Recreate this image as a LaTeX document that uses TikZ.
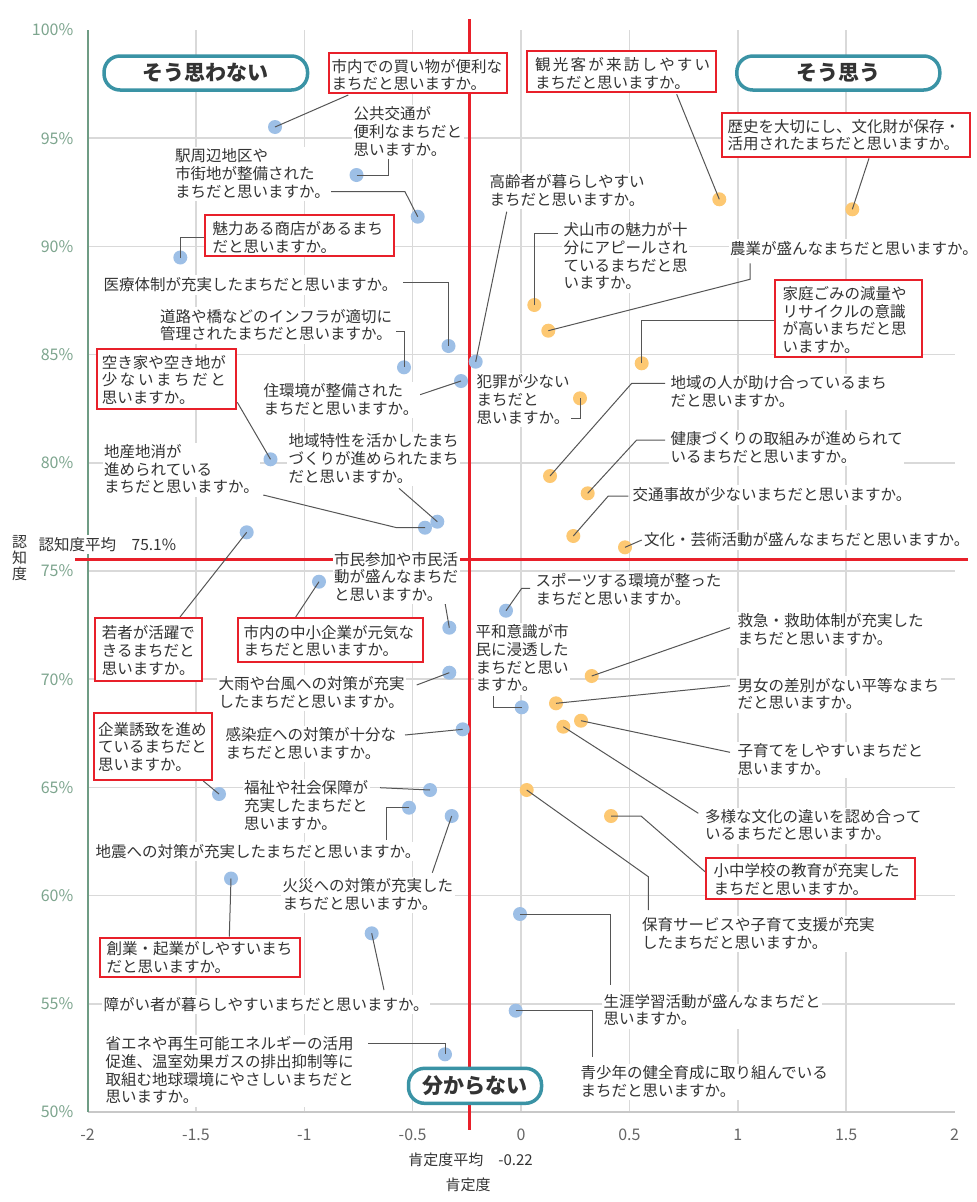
\documentclass[tikz,border=0pt]{standalone}
\usepackage{fontspec}
\setmainfont{Noto Sans CJK JP}
\definecolor{txt}{HTML}{333333}
\definecolor{myred}{HTML}{E8202A}
\definecolor{dotblue}{HTML}{9DBFE6}
\definecolor{dotorange}{HTML}{FDC872}
\definecolor{connc}{HTML}{555555}
\definecolor{tealc}{HTML}{3A93A5}
\definecolor{gridc}{HTML}{D9D9D9}
\definecolor{axgray}{HTML}{C8C8C8}
\definecolor{axgreen}{HTML}{6F9C84}
\definecolor{tickgreen}{HTML}{7DA58E}
\definecolor{tickgray}{HTML}{666666}
\tikzset{
  lbl/.style={anchor=west, align=left, inner sep=1.5pt, fill=white, text=txt,
    font=\fontsize{15.5}{17.8}\selectfont,
    execute at begin node={\rule{0pt}{0.9em}},
    execute at end node={\rule[-0.14em]{0pt}{0.14em}}},
  inlbl/.style={lbl, fill=none, inner sep=0pt},
  rbox/.style={draw=myred, line width=2pt, fill=white, anchor=north west, inner sep=0pt},
  bdot/.style={circle, fill=dotblue, minimum size=14pt, inner sep=0pt},
  odot/.style={circle, fill=dotorange, minimum size=14pt, inner sep=0pt},
  conn/.style={draw=connc, line width=1pt},
  pill/.style={draw=tealc, line width=3.5pt, fill=white, rounded corners=16pt, text=txt,
    font=\fontsize{21}{24}\selectfont\bfseries, inner sep=0pt},
  gridln/.style={draw=gridc, line width=1.5pt},
  redln/.style={draw=myred, line width=2.5pt},
  ytick/.style={anchor=east, text=tickgreen, font=\fontsize{16}{18}\selectfont, inner sep=0pt},
  xtick/.style={text=tickgray, font=\fontsize{16}{18}\selectfont, inner sep=0pt},
  axlbl/.style={text=txt, font=\fontsize{15}{16}\selectfont, inner sep=0pt, align=center},
}
\begin{document}
\begin{tikzpicture}[x=1pt,y=-1pt]
\useasboundingbox (0,0) rectangle (977,1202);
\fill[white] (0,0) rectangle (977,1202);
% grid
\foreach \yy in {138.2,246.4,354.6,462.8,571,679.2,787.4,895.6,1003.8}
  \draw[gridln] (88,\yy) -- (955,\yy);
\foreach \xx in {195.9,304.3,412.6,521,629.4,737.8,846.1}
  \draw[gridln] (\xx,30) -- (\xx,1112);
\draw[draw=axgray, line width=2pt] (88,1112) -- (955,1112);
\draw[draw=axgreen, line width=2.5pt] (88,30) -- (88,1112);
% ticks
\foreach \v/\yy [count=\i] in {100/30,95/138.2,90/246.4,85/354.6,80/462.8,75/571,70/679.2,65/787.4,60/895.6,55/1003.8,50/1112}
  \node[ytick] (yt\i) at (73.5,\yy) {\v\%};
\foreach \v/\xx [count=\i] in {-2/87.5,-1.5/195.9,-1/304.3,-0.5/412.6,0/521,0.5/629.4,1/737.8,1.5/846.1,2/954.5}
  \node[xtick] (xt\i) at (\xx,1135) {\v};
\node[axlbl] (xavg) at (470.5,1160) {肯定度平均　-0.22};
\node[axlbl] (xlab) at (468,1185) {肯定度};
\node[axlbl] (ylab) at (19.7,558) {認\\知\\度};
% average lines
\draw[redln] (469.3,19) -- (469.3,1130);
\draw[redln] (75,559.3) -- (968,559.3);
% dots
\node[bdot] (d1) at (275,127) {};
\node[bdot] (d2) at (356.5,175) {};
\node[bdot] (d3) at (417.7,216.7) {};
\node[bdot] (d4) at (180.3,257.5) {};
\node[bdot] (d5) at (448.5,346) {};
\node[bdot] (d6) at (404,367.3) {};
\node[bdot] (d7) at (475.7,361.7) {};
\node[bdot] (d8) at (461,381) {};
\node[bdot] (d9) at (270.5,459.3) {};
\node[bdot] (d10) at (437.3,521.7) {};
\node[bdot] (d11) at (425,527.7) {};
\node[bdot] (d12) at (246.7,532.3) {};
\node[bdot] (d13) at (319,581.7) {};
\node[bdot] (d14) at (449.3,627.7) {};
\node[bdot] (d15) at (449.3,672.7) {};
\node[bdot] (d16) at (462.7,729.3) {};
\node[bdot] (d17) at (430,790) {};
\node[bdot] (d18) at (409,807.7) {};
\node[bdot] (d19) at (451.7,816) {};
\node[bdot] (d20) at (231,878.5) {};
\node[bdot] (d21) at (371.7,933.3) {};
\node[bdot] (d22) at (445,1054.3) {};
\node[bdot] (d23) at (520,914) {};
\node[bdot] (d24) at (515.7,1010.7) {};
\node[bdot] (d25) at (521.7,707.3) {};
\node[bdot] (d26) at (506,610.7) {};
\node[bdot] (d27) at (219,794) {};
\node[odot] (d28) at (719.3,199.3) {};
\node[odot] (d29) at (852.3,209.3) {};
\node[odot] (d30) at (534.3,305) {};
\node[odot] (d31) at (548.3,330.7) {};
\node[odot] (d32) at (641.7,363.3) {};
\node[odot] (d33) at (580,398.3) {};
\node[odot] (d34) at (550,476) {};
\node[odot] (d35) at (587.7,493.3) {};
\node[odot] (d36) at (573.3,536) {};
\node[odot] (d37) at (625,547.3) {};
\node[odot] (d38) at (591.7,676) {};
\node[odot] (d39) at (556,703.3) {};
\node[odot] (d40) at (581,720.7) {};
\node[odot] (d41) at (563.3,726.7) {};
\node[odot] (d42) at (526.7,790) {};
\node[odot] (d43) at (611,816) {};
% connectors
\draw[conn] (d1.center) -- (348.3,95);
\draw[conn] (d2.center) -- (388.3,175) -- (388.3,159.3);
\draw[conn] (330,191.7) -- (405,191.7) -- (d3.center);
\draw[conn] (d4.center) -- (180.3,237.3) -- (204,237.3);
\draw[conn] (403.3,282.7) -- (448.5,282.7) -- (d5.center);
\draw[conn] (396,331) -- (404,331) -- (d6.center);
\draw[conn] (506.7,211.7) -- (d7.center);
\draw[conn] (411,397.7) -- (d8.center);
\draw[conn] (237.3,402.3) -- (d9.center);
\draw[conn] (399,488.3) -- (d10.center);
\draw[conn] (263.3,495) -- (396.7,527.7) -- (d11.center);
\draw[conn] (180,617) -- (d12.center);
\draw[conn] (295.7,617) -- (d13.center);
\draw[conn] (443.3,593) -- (d14.center);
\draw[conn] (416.7,685) -- (d15.center);
\draw[conn] (405,735) -- (d16.center);
\draw[conn] (380,787.7) -- (d17.center);
\draw[conn] (d18.center) -- (386.7,807.7) -- (386.7,840);
\draw[conn] (432.3,872.7) -- (d19.center);
\draw[conn] (d20.center) -- (229.3,936.7);
\draw[conn] (d21.center) -- (384,990);
\draw[conn] (368.3,1043.3) -- (445,1043.3) -- (d22.center);
\draw[conn] (d23.center) -- (610,914) -- (610,985);
\draw[conn] (d24.center) -- (592.7,1010.7) -- (592.7,1056.7);
\draw[conn] (d25.center) -- (493.3,707.3) -- (493.3,696);
\draw[conn] (d26.center) -- (521.7,588.3) -- (530,588.3);
\draw[conn] (203.3,781) -- (d27.center);
\draw[conn] (676.7,94.3) -- (d28.center);
\draw[conn] (869,158.3) -- (d29.center);
\draw[conn] (d30.center) -- (534.3,233.3) -- (558.3,233.3);
\draw[conn] (d31.center) -- (750,279.3) -- (750,263.3);
\draw[conn] (d32.center) -- (641.7,320) -- (774,320);
\draw[conn] (568.3,418.3) -- (580,418.3) -- (d33.center);
\draw[conn] (d34.center) -- (631.7,383.3) -- (665,383.3);
\draw[conn] (d35.center) -- (636.7,440) -- (665,440);
\draw[conn] (d36.center) -- (608.3,496) -- (628.3,496);
\draw[conn] (d37.center) -- (641.7,540);
\draw[conn] (d38.center) -- (730,627.7);
\draw[conn] (d39.center) -- (730,685.7);
\draw[conn] (d40.center) -- (730,752.3);
\draw[conn] (d41.center) -- (698.3,813.3);
\draw[conn] (d42.center) -- (648.3,876.7) -- (648.3,910);
\draw[conn] (d43.center) -- (641,816) -- (705,871.7);
% plain labels
\node[lbl] (L2) at (352,132) {公共交通が\\便利なまちだと\\思いますか。};
\node[lbl] (L3) at (173.5,174) {駅周辺地区や\\市街地が整備された\\まちだと思いますか。};
\node[lbl] (L7) at (488,191.4) {高齢者が暮らしやすい\\まちだと思いますか。};
\node[lbl] (L30) at (562,256.7) {犬山市の魅力が十\\分にアピールされ\\ているまちだと思\\いますか。};
\node[lbl] (L31) at (728.5,248.3) {農業が盛んなまちだと思いますか。};
\node[lbl] (L5) at (102,285) {医療体制が充実したまちだと思いますか。};
\node[lbl] (L6) at (158.5,325.5) {道路や橋などのインフラが適切に\\管理されたまちだと思いますか。};
\node[lbl] (L8) at (262,400) {住環境が整備された\\まちだと思いますか。};
\node[lbl] (L33) at (475,400.3) {犯罪が少ない\\まちだと\\思いますか。};
\node[lbl] (L34) at (669,392.2) {地域の人が助け合っているまち\\だと思いますか。};
\node[lbl] (L35) at (669,448) {健康づくりの取組みが進められて\\いるまちだと思いますか。};
\node[lbl] (L10) at (287,459) {地域特性を活かしたまち\\づくりが進められたまち\\だと思いますか。};
\node[lbl] (L11) at (102.5,469.7) {地産地消が\\進められている\\まちだと思いますか。};
\node[lbl] (L36) at (631,495) {交通事故が少ないまちだと思いますか。};
\node[lbl] (L37) at (642.5,540) {文化・芸術活動が盛んなまちだと思いますか。};
\node[lbl] (Lavg) at (37,544.3) {認知度平均　75.1\%};
\node[lbl] (L14) at (332.5,577.5) {市民参加や市民活\\動が盛んなまちだ\\と思いますか。};
\node[lbl] (L26) at (534,589.7) {スポーツする環境が整った\\まちだと思いますか。};
\node[lbl] (L25) at (474,658.8) {平和意識が市\\民に浸透した\\まちだと思い\\ますか。};
\node[lbl] (L38) at (736,630.3) {救急・救助体制が充実した\\まちだと思いますか。};
\node[lbl] (L39) at (736,694.5) {男女の差別がない平等なまち\\だと思いますか。};
\node[lbl] (L40) at (736,760) {子育てをしやすいまちだと\\思いますか。};
\node[lbl] (L41) at (703.5,825.5) {多様な文化の違いを認め合って\\いるまちだと思いますか。};
\node[lbl] (L15) at (217,693) {大雨や台風への対策が充実\\したまちだと思いますか。};
\node[lbl] (L16) at (224,743.7) {感染症への対策が十分な\\まちだと思いますか。};
\node[lbl] (L17) at (242.5,806.3) {福祉や社会保障が\\充実したまちだと\\思いますか。};
\node[lbl] (L18) at (94,851.7) {地震への対策が充実したまちだと思いますか。};
\node[lbl] (L19) at (281,894.7) {火災への対策が充実した\\まちだと思いますか。};
\node[lbl] (L42) at (640.5,934.2) {保育サービスや子育て支援が充実\\したまちだと思いますか。};
\node[lbl] (L23) at (602,1010.5) {生涯学習活動が盛んなまちだと\\思いますか。};
\node[lbl] (L24) at (579,1081.9) {青少年の健全育成に取り組んでいる\\まちだと思いますか。};
\node[lbl] (L21) at (102,1004.3) {障がい者が暮らしやすいまちだと思いますか。};
\node[lbl] (L22) at (104,1070.7) {省エネや再生可能エネルギーの活用\\促進、温室効果ガスの排出抑制等に\\取組む地球環境にやさしいまちだと\\思いますか。};
% red boxes
\node[rbox, minimum width=178pt, minimum height=40.6pt] (bA) at (327.7,51.7) {};
\node[inlbl] (tA) at (331.3,75.6) {市内での買い物が便利な\\まちだと思いますか。};
\node[rbox, minimum width=188.7pt, minimum height=41.3pt] (bB) at (526,50) {};
\node[inlbl] (tB) at (535,74) {\makebox[175pt][s]{観\hfil 光\hfil 客\hfil が\hfil 来\hfil 訪\hfil し\hfil や\hfil す\hfil い}\\まちだと思いますか。};
\node[rbox, minimum width=248pt, minimum height=44pt] (bC) at (721,112.3) {};
\node[inlbl] (tC) at (727.3,135.5) {歴史を大切にし、文化財が保存・\\活用されたまちだと思いますか。};
\node[rbox, minimum width=189pt, minimum height=41pt] (bD) at (204,214.3) {};
\node[inlbl] (tD) at (212.3,237.8) {魅力ある商店があるまち\\だと思いますか。};
\node[rbox, minimum width=147.3pt, minimum height=76.4pt] (bE) at (774,279.3) {};
\node[inlbl] (tE) at (782.3,320.5) {家庭ごみの減量や\\リサイクルの意識\\が高いまちだと思\\いますか。};
\node[rbox, minimum width=139.3pt, minimum height=60.3pt] (bF) at (96,347.7) {};
\node[inlbl] (tF) at (101.7,380.5) {空き家や空き地が\\\makebox[8em][s]{少\hfil な\hfil い\hfil ま\hfil ち\hfil だ\hfil と}\\思いますか。};
\node[rbox, minimum width=106.4pt, minimum height=63pt] (bG) at (94.3,617.3) {};
\node[inlbl] (tG) at (101.7,650.8) {若者が活躍で\\きるまちだと\\思いますか。};
\node[rbox, minimum width=185pt, minimum height=43.4pt] (bH) at (237.3,617.3) {};
\node[inlbl] (tH) at (243.3,641.5) {市内の中小企業が元気な\\まちだと思いますか。};
\node[rbox, minimum width=118pt, minimum height=66.7pt] (bI) at (93.3,712.3) {};
\node[inlbl] (tI) at (98,747.5) {企業誘致を進め\\ているまちだと\\思いますか。};
\node[rbox, minimum width=208.7pt, minimum height=41.3pt] (bJ) at (705,856.7) {};
\node[inlbl] (tJ) at (713.3,880) {小中学校の教育が充実した\\まちだと思いますか。};
\node[rbox, minimum width=199.4pt, minimum height=39pt] (bK) at (99.3,936.7) {};
\node[inlbl] (tK) at (106.3,958.2) {創業・起業がしやすいまち\\だと思いますか。};
% pills
\node[pill, minimum width=203.5pt, minimum height=34pt] (p1) at (205.8,73) {そう思わない};
\node[pill, minimum width=203pt, minimum height=34pt] (p2) at (838.3,73) {そう思う};
\node[pill, minimum width=133pt, minimum height=35pt] (p3) at (475,1085.8) {分からない};
\end{tikzpicture}
\end{document}
